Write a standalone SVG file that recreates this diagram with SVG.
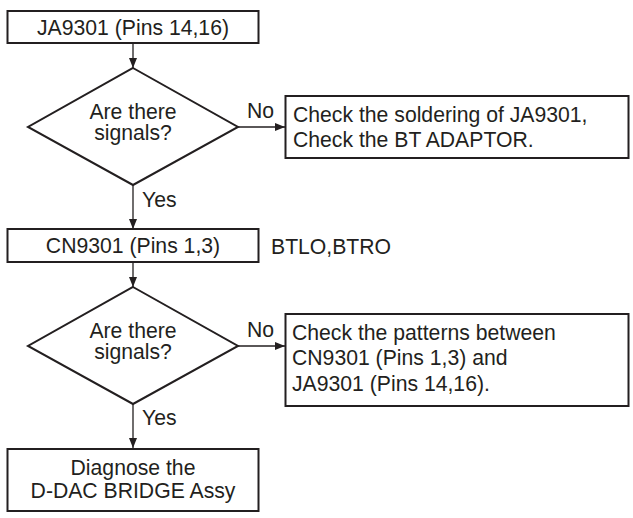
<svg xmlns="http://www.w3.org/2000/svg" width="633" height="518" viewBox="0 0 633 518">
<style>
.box{fill:#fff;stroke:#231f20;stroke-width:2}
.dia{fill:#fff;stroke:#231f20;stroke-width:2;stroke-linejoin:miter}
.ln{fill:none;stroke:#231f20;stroke-width:1.3}
text{font-family:"Liberation Sans",Arial,Helvetica,sans-serif;font-size:21.2px;fill:#231f20}
.c{text-anchor:middle}
</style>
<defs>
<marker id="ah" viewBox="0 0 10 8" refX="10" refY="4" markerWidth="10" markerHeight="8" markerUnits="userSpaceOnUse" orient="auto">
<path d="M0,0 L10,4 L0,8 Z" fill="#231f20"/>
</marker>
</defs>
<rect width="633" height="518" fill="#fff"/>
<g id="connectors">
<line class="ln" x1="133" y1="43" x2="133" y2="68" marker-end="url(#ah)"/>
<line class="ln" x1="238" y1="127" x2="285" y2="127" marker-end="url(#ah)"/>
<line class="ln" x1="133" y1="185" x2="133" y2="229" marker-end="url(#ah)"/>
<line class="ln" x1="133" y1="262" x2="133" y2="287" marker-end="url(#ah)"/>
<line class="ln" x1="238" y1="346" x2="285" y2="346" marker-end="url(#ah)"/>
<line class="ln" x1="133" y1="404" x2="133" y2="448" marker-end="url(#ah)"/>
<text x="247" y="118">No</text>
<text x="142" y="207">Yes</text>
<text x="247" y="337">No</text>
<text x="142" y="425">Yes</text>
</g>
<g id="n1">
<rect class="box" x="7.5" y="11" width="251" height="32"/>
<text class="c" x="133" y="35">JA9301 (Pins 14,16)</text>
</g>
<g id="d1">
<polygon class="dia" points="133,68 238,127 133,185 28,127"/>
<text class="c" x="133" y="119">Are there</text>
<text class="c" x="133" y="139.5">signals?</text>
</g>
<g id="n2">
<rect class="box" x="285.5" y="96" width="343" height="62"/>
<text x="293" y="122">Check the soldering of JA9301,</text>
<text x="293" y="147">Check the BT ADAPTOR.</text>
</g>
<g id="n3">
<rect class="box" x="7.5" y="229" width="251" height="33"/>
<text class="c" x="133" y="253">CN9301 (Pins 1,3)</text>
</g>
<g id="lbl">
<text x="271" y="254">BTLO,BTRO</text>
</g>
<g id="d2">
<polygon class="dia" points="133,287 238,346 133,404 28,346"/>
<text class="c" x="133" y="338">Are there</text>
<text class="c" x="133" y="358.5">signals?</text>
</g>
<g id="n4">
<rect class="box" x="285.5" y="314" width="343" height="92"/>
<text x="292" y="340">Check the patterns between</text>
<text x="292" y="365">CN9301 (Pins 1,3) and</text>
<text x="292" y="391">JA9301 (Pins 14,16).</text>
</g>
<g id="n5">
<rect class="box" x="7.5" y="449" width="251" height="62"/>
<text class="c" x="133" y="475">Diagnose the</text>
<text class="c" x="133" y="498">D-DAC BRIDGE Assy</text>
</g>
</svg>
